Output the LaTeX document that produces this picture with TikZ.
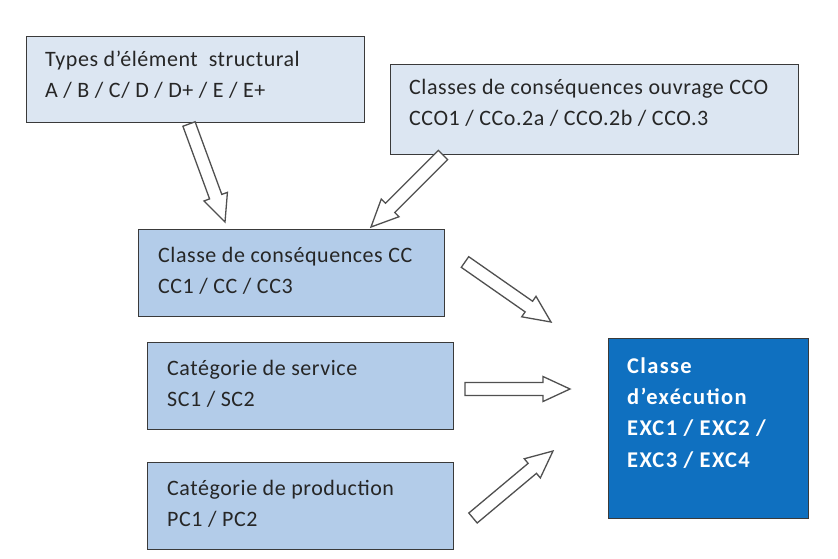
\documentclass[tikz,border=0pt]{standalone}
\usepackage{fontspec}
\setmainfont{Carlito}[LetterSpace=2.5]
\usetikzlibrary{calc}
\definecolor{lightbox}{HTML}{DCE6F2}
\definecolor{midbox}{HTML}{B3CCE9}
\definecolor{darkbox}{HTML}{0F70C0}
\definecolor{edgecol}{HTML}{3A3A3A}
\definecolor{arrowedge}{HTML}{505050}
\definecolor{txtcol}{HTML}{262626}
\begin{document}
\begin{tikzpicture}[x=1pt,y=-1pt,
  box/.style={draw=edgecol, line width=1.3pt, anchor=north west, inner sep=0pt},
  txt/.style={anchor=base west, align=left, inner sep=0pt,
    font=\fontsize{22}{31}\selectfont, text=txtcol},
  blockarr/.style={draw=arrowedge, fill=white, line width=1.3pt, line join=miter,
    to path={
      ($(\tikztostart)!6.5pt!90:(\tikztotarget)$)
      -- ($(\tikztotarget)!27pt!(\tikztostart)!6.5pt!-90:(\tikztostart)$)
      -- ($(\tikztotarget)!27pt!(\tikztostart)!12.5pt!-90:(\tikztostart)$)
      -- (\tikztotarget)
      -- ($(\tikztotarget)!27pt!(\tikztostart)!12.5pt!90:(\tikztostart)$)
      -- ($(\tikztotarget)!27pt!(\tikztostart)!6.5pt!90:(\tikztostart)$)
      -- ($(\tikztostart)!6.5pt!-90:(\tikztotarget)$)
      -- cycle}}]
\useasboundingbox (0,0) rectangle (838,558);
\fill[white] (0,0) rectangle (838,558);

% boxes
\node[box, fill=lightbox, minimum width=338pt, minimum height=86pt] (types) at (26,36) {};
\node[box, fill=lightbox, minimum width=408pt, minimum height=90pt] (cco) at (390,64) {};
\node[box, fill=midbox, minimum width=306pt, minimum height=87pt] (cc) at (138,229) {};
\node[box, fill=midbox, minimum width=306pt, minimum height=87pt] (sc) at (147,342) {};
\node[box, fill=midbox, minimum width=306pt, minimum height=87pt] (pc) at (147,462) {};
\node[box, fill=darkbox, minimum width=200pt, minimum height=180pt] (exc) at (608,338) {};

% texts (anchored at the baseline of their last line)
\node[txt] (typesT) at (45,97) {Types d’élément\ \ structural\\A / B / C/ D / D+ / E / E+};
\node[txt] (ccoT) at (409,125) {Classes de conséquences ouvrage CCO\\CCO1 / CCo.2a / CCO.2b / CCO.3};
\node[txt] (ccT) at (158,293) {Classe de conséquences CC\\CC1 / CC / CC3};
\node[txt] (scT) at (167,406) {Catégorie de service\\SC1 / SC2};
\node[txt] (pcT) at (167,526) {Catégorie de production\\PC1 / PC2};
\node[txt, text=white, font=\fontsize{22.5}{31.3}\selectfont\bfseries\addfontfeature{LetterSpace=6}] (excT) at (627,467)
  {Classe\\d’exécution\\EXC1 / EXC2 /\\EXC3 / EXC4};

% arrow end points
\coordinate (a1s) at (189,124);
\coordinate (a1t) at (225,222);
\coordinate (a2s) at (443,155);
\coordinate (a2t) at (371,227);
\coordinate (a3s) at (465,262);
\coordinate (a3t) at (551,322);
\coordinate (a4s) at (465,389);
\coordinate (a4t) at (570,389);
\coordinate (a5s) at (473,518);
\coordinate (a5t) at (553,451);

\draw[blockarr] (a1s) to (a1t);
\draw[blockarr] (a2s) to (a2t);
\draw[blockarr] (a3s) to (a3t);
\draw[blockarr] (a4s) to (a4t);
\draw[blockarr] (a5s) to (a5t);
\end{tikzpicture}
\end{document}
